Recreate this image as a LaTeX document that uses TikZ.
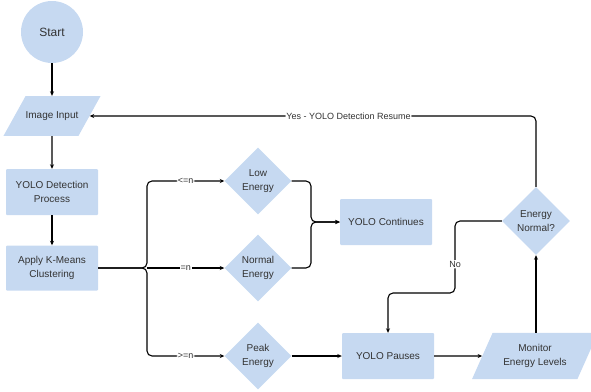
\documentclass[tikz,border=0pt]{standalone}
\usepackage{fontspec}
\setmainfont{Liberation Sans}
\usetikzlibrary{shapes.geometric,arrows.meta}
\definecolor{boxblue}{HTML}{C6D9F1}
\definecolor{txtgray}{HTML}{333333}
\tikzset{
  base/.style={fill=boxblue, draw=none, text=txtgray, align=center,
    font=\fontsize{10}{14}\selectfont, inner sep=0pt},
  procbox/.style={base, rectangle, rounded corners=1pt,
    minimum width=92pt, minimum height=46pt},
  iobox/.style={base, trapezium, trapezium stretches body=true},
  decision/.style={base, diamond, minimum width=67pt, minimum height=67pt},
  flow/.style={line width=1.1pt, -{Stealth[length=4.5pt,width=4pt]}},
  lbl/.style={fill=white, text=txtgray, font=\fontsize{9}{9}\selectfont, inner sep=1pt}
}
\begin{document}
\begin{tikzpicture}[x=1pt, y=-1pt]
  \useasboundingbox (0,0) rectangle (591,391);
  \pgfmathsetmacro{\colL}{52}
  \pgfmathsetmacro{\colD}{258}

  % left column
  \node[base, circle, minimum size=62pt, font=\fontsize{12}{14}\selectfont] (start) at (\colL,32) {Start};
  \node[iobox, trapezium left angle=61, trapezium right angle=119,
    minimum width=92pt, inner ysep=15.5pt] (input) at (\colL,116) {Image Input};
  \node[procbox] (detect) at (\colL,192) {YOLO Detection\\Process};
  \node[procbox, minimum height=45pt] (kmeans) at (\colL,268) {Apply K-Means\\Clustering};

  % energy decisions
  \node[decision] (low) at (\colD,181) {Low\\Energy};
  \node[decision] (normal) at (\colD,268) {Normal\\Energy};
  \node[decision] (peak) at (\colD,356) {Peak\\Energy};

  % outcomes
  \node[procbox] (cont) at (386,222) {YOLO Continues};
  \node[procbox] (pause) at (388,356) {YOLO Pauses};
  \node[iobox, trapezium left angle=66, trapezium right angle=114,
    minimum width=126pt, inner ysep=11.5pt] (monitor) at (535,356) {Monitor\\Energy Levels};
  \node[decision, minimum width=68pt, minimum height=68pt] (check) at (536,221) {Energy\\Normal?};

  % bend points
  \coordinate (fork) at (147,268);
  \coordinate (join) at (311,222);
  \coordinate (nobend) at (455,293);

  % connectors
  \draw[flow] (start) -- (input);
  \draw[flow] (input) -- (detect);
  \draw[flow] (detect) -- (kmeans);
  \draw[flow, rounded corners=5pt] (kmeans.east) -- (fork) |- node[lbl, pos=0.75] {<=n} (low.west);
  \draw[flow] (fork) -- node[lbl] {=n} (normal.west);
  \draw[flow, rounded corners=5pt] (kmeans.east) -- (fork) |- node[lbl, pos=0.75] {>=n} (peak.west);
  \draw[flow, rounded corners=5pt] (low.east) -| (join) -- (cont.west);
  \draw[flow, rounded corners=5pt] (normal.east) -| (join) -- (cont.west);
  \draw[flow] (peak) -- (pause);
  \draw[flow] (pause) -- (monitor.west);
  \draw[flow] (monitor.north -| check.south) -- (check.south);
  \draw[flow, rounded corners=5pt] (check.west) -| node[lbl, pos=0.8] {No} (nobend) -| (pause.north);
  \draw[flow, rounded corners=5pt] (check.north) |- node[lbl, pos=0.71] {Yes - YOLO Detection Resume} (input.east);
\end{tikzpicture}
\end{document}
